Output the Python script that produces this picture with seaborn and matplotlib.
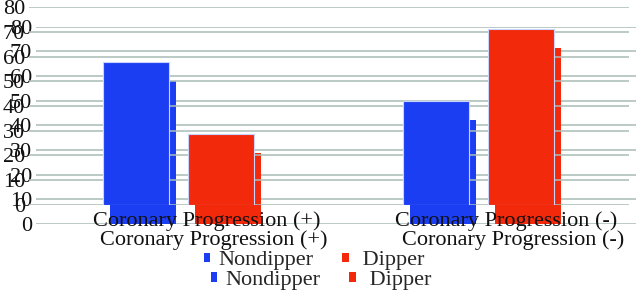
import matplotlib
matplotlib.use("Agg")
import matplotlib.pyplot as plt
import seaborn as sns
import pandas as pd
from matplotlib.patches import Patch

categories = ["Coronary Progression (+)", "Coronary Progression (-)"]
series = ["Nondipper", "Dipper"]
nondipper = [57.9, 42.1]
dipper = [28.6, 71.4]
yticks = [0, 10, 20, 30, 40, 50, 60, 70, 80]

colors = ["#1c3ef2", "#f2290a"]
grid_color = "#a9bcb7"

df = pd.DataFrame({
    "group": categories * 2,
    "series": [series[0]] * 2 + [series[1]] * 2,
    "value": nondipper + dipper,
})

sns.set_theme(style="white")
plt.rcParams["font.family"] = ["Liberation Serif", "DejaVu Serif"]

W, H = 637, 299
FS = 16
fig = plt.figure(figsize=(W / 100, H / 100), dpi=100)
fig.patch.set_facecolor("white")

def draw(ax, front):
    sns.barplot(data=df, x="group", y="value", hue="series", order=categories,
                hue_order=series, palette=colors, width=0.567, gap=0.223,
                saturation=1, errorbar=None, ax=ax, legend=False,
                edgecolor=("#c9d3ff" if front else "none"),
                linewidth=(0.8 if front else 0))
    ax.set_ylim(0, 80)
    ax.set_xlim(-0.5, 1.5)
    ax.set_yticks(yticks)
    ax.set_yticklabels([str(t) for t in yticks], fontsize=FS, color="#111111")
    ax.set_xticks([0.093, 1.093])
    ax.set_xticklabels(categories, fontsize=FS, color="#111111")
    ax.tick_params(axis="both", length=0)
    ax.tick_params(axis="y", pad=2.5)
    ax.tick_params(axis="x", pad=4.5)
    ax.set_xlabel("")
    ax.set_ylabel("")
    ax.set_axisbelow(True)
    ax.yaxis.grid(True, color=grid_color, linewidth=1.1)
    ax.xaxis.grid(False)
    for s in ax.spines.values():
        s.set_visible(False)
    ax.patch.set_alpha(0.0)
    handles = [Patch(facecolor=c, edgecolor="none") for c in colors]
    labels = [series[0], " " + series[1]]
    ax.legend(handles, labels, loc="center", bbox_to_anchor=(0.476, -0.285),
              ncol=2, frameon=False, fontsize=FS, handlelength=0.3,
              handleheight=0.3, handletextpad=0.36, columnspacing=1.3,
              borderpad=0, borderaxespad=0)

axB = fig.add_axes([35.5 / W, 75 / H, 600 / W, 197.4 / H], zorder=1)
draw(axB, False)
axA = fig.add_axes([28.5 / W, 94.3 / H, 600 / W, 197.4 / H], zorder=2)
draw(axA, True)

fig.savefig("out.png", dpi=100, facecolor="white")
